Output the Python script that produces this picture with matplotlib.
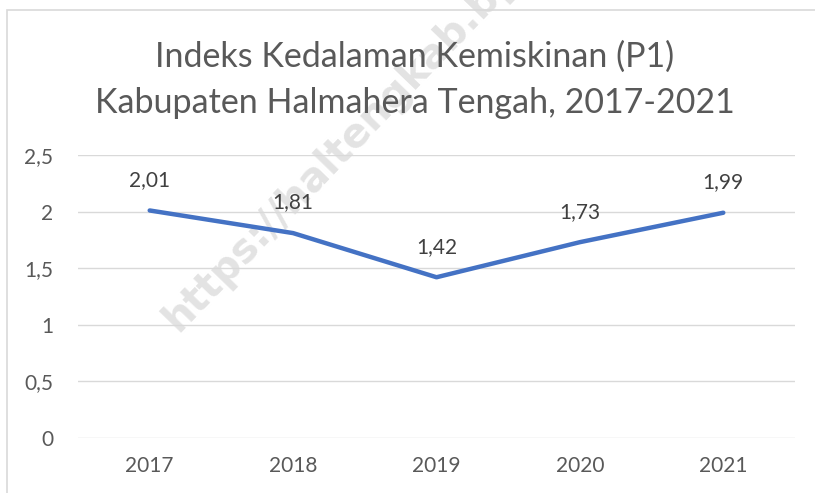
import matplotlib
matplotlib.use("Agg")
import matplotlib.pyplot as plt
from matplotlib.patches import Rectangle

# data
years = ["2017", "2018", "2019", "2020", "2021"]
p1_values = [2.01, 1.81, 1.42, 1.73, 1.99]
value_labels = ["2,01", "1,81", "1,42", "1,73", "1,99"]
y_ticks = [0, 0.5, 1, 1.5, 2, 2.5]
y_tick_labels = ["0", "0,5", "1", "1,5", "2", "2,5"]

plt.rcParams['font.family'] = ['Lato', 'DejaVu Sans']

fig = plt.figure(figsize=(8.15, 4.93), dpi=100, facecolor='white')
ax = fig.add_axes([78 / 815, 1 - 438 / 493, 717 / 815, 283 / 493])
ax.patch.set_visible(False)

# chart frame (cut off on the right and bottom)
fig.patches.append(Rectangle((7 / 815, -0.05), 1.1, 1 - 10 / 493 + 0.05,
                             transform=fig.transFigure, fill=False,
                             edgecolor='#d9d9d9', linewidth=1.2))

x = list(range(len(years)))
ax.plot(x, p1_values, color='#4472C4', linewidth=3.2,
        solid_capstyle='round', solid_joinstyle='round', zorder=3)

for xi, v, lab in zip(x, p1_values, value_labels):
    ax.annotate(lab, (xi, v), xytext=(0, 22), textcoords='offset points',
                ha='center', va='center', fontsize=15, color='#404040')

ax.set_xlim(-0.5, len(years) - 0.5)
ax.set_ylim(0, 2.5)
ax.set_yticks(y_ticks)
ax.set_yticklabels(y_tick_labels)
ax.set_xticks(x)
ax.set_xticklabels(years)
ax.tick_params(axis='both', length=0, labelsize=15, labelcolor='#595959')
ax.tick_params(axis='y', pad=18)
ax.tick_params(axis='x', pad=13)
ax.grid(axis='y', color='#d9d9d9', linewidth=1.0)
ax.set_axisbelow(True)
for s in ax.spines.values():
    s.set_visible(False)

fig.text(415 / 815, 1 - 57 / 493, "Indeks Kedalaman Kemiskinan (P1)",
         ha='center', va='center', fontsize=24.5, color='#595959')
fig.text(415 / 815, 1 - 103 / 493, "Kabupaten Halmahera Tengah, 2017-2021",
         ha='center', va='center', fontsize=24.5, color='#595959')

# watermark, behind the axes content
fig.text(178 / 815, 1 - 333 / 493, "https://haltengkab.bps.go.id",
         rotation=46, rotation_mode='anchor', ha='left', va='baseline',
         fontsize=29, fontweight='bold', color='#e3e3e3',
         family=['DejaVu Sans'], zorder=-1)

fig.savefig("out.png", dpi=100)
